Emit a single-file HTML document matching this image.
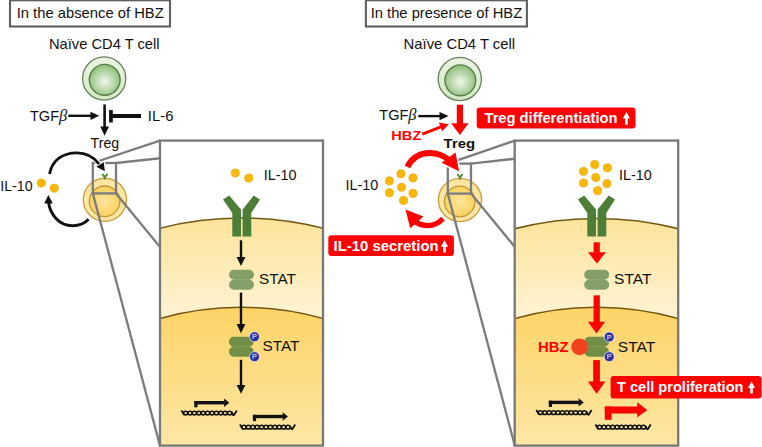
<!DOCTYPE html>
<html><head><meta charset="utf-8">
<style>
html,body{margin:0;padding:0;background:#fff;}
svg{display:block;}
text{font-family:"Liberation Sans",sans-serif;}
</style></head>
<body>
<svg width="762" height="447" viewBox="0 0 762 447">
<defs>
  <radialGradient id="gInner" cx="0.5" cy="0.55" r="0.55">
    <stop offset="0" stop-color="#f2f8ee"/>
    <stop offset="1" stop-color="#88bd72"/>
  </radialGradient>
  <linearGradient id="gOuter" x1="0" y1="0" x2="0" y2="1">
    <stop offset="0" stop-color="#eaf5e2"/>
    <stop offset="1" stop-color="#d2e9c2"/>
  </linearGradient>
  <linearGradient id="gCyto" gradientUnits="userSpaceOnUse" x1="0" y1="218" x2="0" y2="318">
    <stop offset="0" stop-color="#fde49b"/>
    <stop offset="1" stop-color="#fef3d3"/>
  </linearGradient>
  <linearGradient id="gNuc" gradientUnits="userSpaceOnUse" x1="0" y1="307" x2="0" y2="447">
    <stop offset="0" stop-color="#fcd466"/>
    <stop offset="1" stop-color="#fde7a6"/>
  </linearGradient>
  <radialGradient id="gTregIn" cx="0.5" cy="0.5" r="0.5">
    <stop offset="0" stop-color="#fde6a0"/>
    <stop offset="1" stop-color="#fbd15e"/>
  </radialGradient>
  <clipPath id="clipL"><rect x="160" y="140.6" width="163" height="305"/></clipPath>
  <clipPath id="clipR"><rect x="514.7" y="140.6" width="163.5" height="305"/></clipPath>

  <!-- naive cell -->
  <g id="naive">
    <circle cx="0" cy="0" r="21.6" fill="url(#gOuter)" stroke="#687f5e" stroke-width="1.3"/>
    <circle cx="0.5" cy="1.3" r="15.4" fill="url(#gInner)" stroke="#5b7b4d" stroke-width="1.4"/>
  </g>
  <!-- treg cell -->
  <g id="treg">
    <circle cx="0" cy="0" r="21.6" fill="#fde6a4" stroke="#c9a23e" stroke-width="1.4"/>
    <circle cx="-0.3" cy="1.5" r="15.3" fill="url(#gTregIn)" stroke="#c09a38" stroke-width="1.3"/>
    <path d="M-2.7,-25.8 L-0.1,-22.6 L2.6,-25.8 M-0.1,-22.6 L-0.1,-20.2" stroke="#5a8a3a" stroke-width="2" fill="none"/>
  </g>
  <!-- receptor, origin at stem center top of gap -->
  <g id="receptor" fill="#4d7e37">
    <polygon points="-18.8,-10 -12.6,-14 -0.8,0 -0.8,27 -9.5,27 -9.5,3.5"/>
    <polygon points="18.2,-10 12,-14 0.8,0 0.8,27 9.5,27 9.5,3.5"/>
  </g>
  <!-- STAT dimer -->
  <g id="stat">
    <path d="M-7.5,-10 H7.5 A5,5 0 0 1 7.5,0 A5,5 0 0 1 7.5,10 H-7.5 A5,5 0 0 1 -7.5,0 A5,5 0 0 1 -7.5,-10 Z" fill="#84a068"/>
    <path d="M-8.5,0 H8.5" stroke="#98b07e" stroke-width="0.8"/>
  </g>
  <g id="pstat">
    <path d="M-7.4,-10 H7.4 A5,5 0 0 1 7.4,0 A5,5 0 0 1 7.4,10 H-7.4 A5,5 0 0 1 -7.4,0 A5,5 0 0 1 -7.4,-10 Z" fill="#728e46"/>
    <path d="M-8.5,0 H8.5" stroke="#84a05a" stroke-width="0.8"/>
  </g>
  <g id="pcirc">
    <circle r="5" fill="#2c2f9c" stroke="#e8e8f4" stroke-width="0.8"/>
    <text x="0" y="2.6" font-size="7.2" fill="#fff" text-anchor="middle">P</text>
  </g>
  <!-- DNA, origin at left end, center y -->
  <g id="dna" fill="none" stroke="#111" stroke-width="1.5">
    <path d="M0.3,-2.5 L3.2,2" stroke-width="1.9"/>
    <ellipse cx="4.4" cy="0.1" rx="2.05" ry="1.85"/><ellipse cx="8.8" cy="0.1" rx="2.05" ry="1.85"/><ellipse cx="13.2" cy="0.1" rx="2.05" ry="1.85"/><ellipse cx="17.6" cy="0.1" rx="2.05" ry="1.85"/><ellipse cx="22.0" cy="0.1" rx="2.05" ry="1.85"/><ellipse cx="26.4" cy="0.1" rx="2.05" ry="1.85"/><ellipse cx="30.8" cy="0.1" rx="2.05" ry="1.85"/><ellipse cx="35.2" cy="0.1" rx="2.05" ry="1.85"/><ellipse cx="39.6" cy="0.1" rx="2.05" ry="1.85"/><ellipse cx="44.0" cy="0.1" rx="2.05" ry="1.85"/><ellipse cx="48.4" cy="0.1" rx="2.05" ry="1.85"/>
    <path d="M50.6,-1.2 Q51.6,3 52.8,2 L55.6,-2.5" stroke-width="1.8"/>
  </g>
  <g id="bentK" fill="#111">
    <rect x="0" y="0" width="3.2" height="6.3"/>
    <rect x="0" y="0" width="30" height="3.4"/>
    <polygon points="29.8,-2.5 35,1.7 29.8,5.9"/>
  </g>
</defs>

<!-- ================= LEFT ================= -->
<rect x="10" y="0.3" width="160" height="26.2" fill="#fff" stroke="#606060" stroke-width="2.1"/>
<text x="16.7" y="18.4" font-size="14.5" fill="#111" textLength="147" lengthAdjust="spacingAndGlyphs">In the absence of HBZ</text>
<text x="49" y="48.7" font-size="14.5" fill="#111" textLength="110.5" lengthAdjust="spacingAndGlyphs">Naïve CD4 T cell</text>
<use href="#naive" x="104.2" y="78.5"/>

<!-- arrows -->
<path d="M104.6,104.4 V127" stroke="#111" stroke-width="2.6"/>
<polygon points="100.2,126.5 109,126.5 104.6,135.8" fill="#111"/>
<path d="M68.3,115.8 H92" stroke="#111" stroke-width="2.4"/>
<polygon points="90.5,111.7 90.5,119.9 99.3,115.8" fill="#111"/>
<rect x="109.1" y="110" width="3.7" height="12.5" fill="#111"/>
<rect x="112" y="114" width="29" height="4" fill="#111"/>
<text x="30" y="120.5" font-size="14.5" fill="#111">TGF<tspan font-family="Liberation Serif" font-style="italic" font-size="16.5">β</tspan></text>
<text x="147.8" y="120.6" font-size="15" fill="#111" textLength="25.6" lengthAdjust="spacingAndGlyphs">IL-6</text>
<text x="90.6" y="147.6" font-size="14.3" fill="#111" textLength="28.5" lengthAdjust="spacingAndGlyphs">Treg</text>

<!-- IL-10 loop -->
<text x="0.2" y="190.7" font-size="15" fill="#111" textLength="32.4" lengthAdjust="spacingAndGlyphs">IL-10</text>
<circle cx="41.3" cy="183.1" r="4.1" fill="#f7b808" stroke="#eaa915" stroke-width="0.7"/>
<circle cx="54.3" cy="188.2" r="4.1" fill="#f7b808" stroke="#eaa915" stroke-width="0.7"/>

<!-- treg cell + magnifier -->
<use href="#treg" x="104.9" y="199.8"/>
<g stroke="#7c7c80" stroke-width="2.3" fill="none">
  <path d="M92.8,163 L160,140.6"/>
  <path d="M116,163 L323,140.6"/>
  <path d="M92.8,193.4 L160,445.6"/>
  <path d="M116,193.4 L323,445.4"/>
  <rect x="92.8" y="163" width="23.2" height="30.4"/>
</g>
<path d="M49.6,174 C52,160 63,152.8 76.7,152.8 C86,152.8 94,157 99,164" fill="none" stroke="#fff" stroke-width="5"/>
<polygon points="96.3,166.8 103.8,162.3 104.8,171.2" fill="#fff" stroke="#fff" stroke-width="2.5" stroke-linejoin="round"/>
<path d="M49.6,174 C52,160 63,152.8 76.7,152.8 C86,152.8 94,157 99,164" fill="none" stroke="#111" stroke-width="2.8"/>
<polygon points="96.3,166.8 103.8,162.3 104.8,171.2" fill="#111"/>
<path d="M88.6,219.3 C81,227.5 65,228.5 56,218.5 C51.5,213.5 49.2,208 48.5,202" fill="none" stroke="#111" stroke-width="2.9"/>
<polygon points="44.2,203.4 52.8,203.4 48.3,194.9" fill="#111"/>

<!-- big box left -->
<rect x="160" y="140.6" width="163" height="305" fill="#fff"/>
<g clip-path="url(#clipL)">
  <circle cx="241.5" cy="547" r="329" fill="url(#gCyto)" stroke="#755712" stroke-width="1.5"/>
  <circle cx="241.5" cy="609.3" r="302" fill="url(#gNuc)" stroke="#755712" stroke-width="1.5"/>
</g>
<rect x="160" y="140.6" width="163" height="305" fill="none" stroke="#787878" stroke-width="2.3"/>

<circle cx="235.3" cy="173" r="4.1" fill="#f7b808" stroke="#eaa915" stroke-width="0.7"/>
<circle cx="248.8" cy="178" r="4.1" fill="#f7b808" stroke="#eaa915" stroke-width="0.7"/>
<text x="263.8" y="179.5" font-size="14.5" fill="#111" textLength="32.8" lengthAdjust="spacingAndGlyphs">IL-10</text>
<use href="#receptor" x="241.8" y="209.5"/>
<path d="M241,240.3 V258" stroke="#111" stroke-width="2.4"/>
<polygon points="236.6,257 245.4,257 241,266" fill="#111"/>
<use href="#stat" x="241.5" y="279.8"/>
<text x="259" y="284" font-size="14.5" fill="#111" textLength="37" lengthAdjust="spacingAndGlyphs">STAT</text>
<path d="M241,292.6 V325" stroke="#111" stroke-width="2.4"/>
<polygon points="236.6,324 245.4,324 241,333.3" fill="#111"/>
<use href="#pstat" x="241.3" y="346.8"/>
<use href="#pcirc" x="254.5" y="336.8"/>
<use href="#pcirc" x="254.5" y="356.7"/>
<text x="262.4" y="351.3" font-size="14.5" fill="#111" textLength="37" lengthAdjust="spacingAndGlyphs">STAT</text>
<path d="M241,359.8 V386" stroke="#111" stroke-width="2.4"/>
<polygon points="236.6,385 245.4,385 241,393.8" fill="#111"/>
<use href="#dna" x="181.2" y="413"/>
<use href="#bentK" x="194.3" y="401"/>
<use href="#dna" x="239.6" y="427.1"/>
<use href="#bentK" x="252.9" y="414.8"/>

<!-- ================= RIGHT ================= -->
<rect x="365.9" y="0.3" width="161" height="26.2" fill="#fff" stroke="#606060" stroke-width="2.1"/>
<text x="370.7" y="18.4" font-size="14.5" fill="#111" textLength="151.5" lengthAdjust="spacingAndGlyphs">In the presence of HBZ</text>
<text x="403.6" y="48.7" font-size="14.5" fill="#111" textLength="111.5" lengthAdjust="spacingAndGlyphs">Naïve CD4 T cell</text>
<use href="#naive" x="459.8" y="79"/>

<rect x="456.8" y="104.7" width="6.2" height="19.5" fill="#fb0303"/>
<polygon points="451.1,123.3 468.6,123.3 459.9,134.9" fill="#fb0303"/>
<path d="M418.3,116.1 H441" stroke="#111" stroke-width="2.4"/>
<polygon points="439.5,112 439.5,120.2 448.6,116.1" fill="#111"/>
<text x="379.3" y="119.8" font-size="14.5" fill="#111">TGF<tspan font-family="Liberation Serif" font-style="italic" font-size="16.5">β</tspan></text>
<text x="391.3" y="140.3" font-size="13" font-weight="bold" fill="#fb0303" textLength="30" lengthAdjust="spacingAndGlyphs">HBZ</text>
<path d="M422.3,134.2 L441,126.8" stroke="#fb0303" stroke-width="3"/>
<polygon points="438.8,122.6 448.8,124.3 442.2,131.2" fill="#fb0303"/>
<text x="443.6" y="147.7" font-size="13" font-weight="bold" fill="#111" textLength="31.5" lengthAdjust="spacingAndGlyphs">Treg</text>

<rect x="476.7" y="107.4" width="158.8" height="21.2" rx="3" fill="#fb0303"/>
<text x="484.5" y="123.4" font-size="14.5" font-weight="bold" fill="#fff" textLength="133" lengthAdjust="spacingAndGlyphs">Treg differentiation</text>
<path d="M626.4,116 V124.8" stroke="#fff" stroke-width="2.6"/>
<polygon points="622.8,118.6 630.0,118.6 626.4,111.9" fill="#fff"/>

<text x="345.5" y="190.4" font-size="14.5" fill="#111" textLength="32.8" lengthAdjust="spacingAndGlyphs">IL-10</text>
<g fill="#f7b808" stroke="#eaa915" stroke-width="0.7">
  <circle cx="400.9" cy="173.8" r="4.1"/>
  <circle cx="389.4" cy="180.9" r="4.1"/>
  <circle cx="413" cy="177.9" r="4.1"/>
  <circle cx="401.5" cy="187.3" r="4.1"/>
  <circle cx="389.4" cy="192.8" r="4.1"/>
  <circle cx="413" cy="193.4" r="4.1"/>
  <circle cx="403.5" cy="200.4" r="4.1"/>
</g>

<use href="#treg" x="460" y="200"/>
<g stroke="#7c7c80" stroke-width="2.3" fill="none">
  <path d="M447.8,163.6 L514.8,140.6"/>
  <path d="M471,163.6 L678,140.6"/>
  <path d="M447.8,193.6 L514.8,445.6"/>
  <path d="M471,193.6 L678,445.6"/>
  <rect x="447.8" y="163.6" width="23.2" height="30"/>
</g>
<!-- red loop arrows -->
<path d="M407.4,166.9 C413,156 421,153 429.5,153 C437,153 443,155 449,160" fill="none" stroke="#fff" stroke-width="8"/>
<polygon points="441.6,162.8 455.5,152.5 459.1,171.3" fill="#fff" stroke="#fff" stroke-width="3" stroke-linejoin="round"/>
<path d="M407.4,166.9 C413,156 421,153 429.5,153 C437,153 443,155 449,160" fill="none" stroke="#fb0303" stroke-width="6"/>
<polygon points="441.6,162.8 455.5,152.5 459.1,171.3" fill="#fb0303"/>
<path d="M443,218.5 C438,224 433,225.6 428,225.6 C423,225.6 418,224 413,220.5" fill="none" stroke="#fb0303" stroke-width="5.2"/>
<polygon points="405.5,209.4 410.2,228.2 423.5,216.4" fill="#fb0303"/>

<rect x="328.3" y="235.2" width="125.6" height="20.9" rx="3" fill="#fb0303"/>
<text x="333.6" y="251.2" font-size="14.5" font-weight="bold" fill="#fff" textLength="105" lengthAdjust="spacingAndGlyphs">IL-10 secretion</text>
<path d="M444.5,244 V252.5" stroke="#fff" stroke-width="2.6"/>
<polygon points="440.9,246.8 448.1,246.8 444.5,240.2" fill="#fff"/>

<!-- big box right -->
<rect x="514.7" y="140.6" width="163.5" height="305" fill="#fff"/>
<g clip-path="url(#clipR)">
  <circle cx="596.5" cy="547.4" r="329" fill="url(#gCyto)" stroke="#755712" stroke-width="1.5"/>
  <circle cx="596.5" cy="609.3" r="302" fill="url(#gNuc)" stroke="#755712" stroke-width="1.5"/>
</g>
<rect x="514.7" y="140.6" width="163.5" height="305" fill="none" stroke="#787878" stroke-width="2.3"/>

<g fill="#f7b808" stroke="#eaa915" stroke-width="0.7">
  <circle cx="594.7" cy="164.5" r="4.1"/>
  <circle cx="583.5" cy="171.3" r="4.1"/>
  <circle cx="607.4" cy="167.9" r="4.1"/>
  <circle cx="595.8" cy="177.5" r="4.1"/>
  <circle cx="583.5" cy="183.1" r="4.1"/>
  <circle cx="607" cy="183.6" r="4.1"/>
  <circle cx="597.6" cy="190.7" r="4.1"/>
</g>
<text x="618.9" y="179.5" font-size="14.5" fill="#111" textLength="32.8" lengthAdjust="spacingAndGlyphs">IL-10</text>
<use href="#receptor" x="596.8" y="209.5"/>
<rect x="593.6" y="242.3" width="6.2" height="10.5" fill="#fb0303"/>
<polygon points="588,252.2 605.9,252.2 596.9,263.6" fill="#fb0303"/>
<use href="#stat" x="596.7" y="279.8"/>
<text x="614" y="283.9" font-size="14.5" fill="#111" textLength="37.5" lengthAdjust="spacingAndGlyphs">STAT</text>
<rect x="593.6" y="295.3" width="6.2" height="27" fill="#fb0303"/>
<polygon points="587.9,321.8 605,321.8 596.5,333.6" fill="#fb0303"/>
<text x="538" y="351.7" font-size="14.2" font-weight="bold" fill="#fb0303" textLength="30.5" lengthAdjust="spacingAndGlyphs">HBZ</text>
<use href="#pstat" x="596.7" y="346.8"/>
<circle cx="579.6" cy="346.9" r="8.4" fill="#f2421f"/>
<use href="#pcirc" x="609.2" y="337"/>
<use href="#pcirc" x="609.2" y="356.7"/>
<text x="617.8" y="351.6" font-size="14.5" fill="#111" textLength="37.5" lengthAdjust="spacingAndGlyphs">STAT</text>
<rect x="593.2" y="360.1" width="6.7" height="22" fill="#fb0303"/>
<polygon points="587.9,381.5 605.4,381.5 596.6,393.7" fill="#fb0303"/>
<use href="#dna" x="536" y="412.6"/>
<use href="#bentK" x="548.8" y="400.7"/>
<use href="#dna" x="595.1" y="427.1"/>
<rect x="604.8" y="406.5" width="6.8" height="13.3" fill="#fb0303"/>
<rect x="604.8" y="406.5" width="34" height="7" fill="#fb0303"/>
<polygon points="637.2,402.2 647.2,409.9 637.2,417.4" fill="#fb0303"/>

<rect x="610.6" y="376" width="151" height="22.4" rx="3" fill="#fb0303"/>
<text x="617" y="392.2" font-size="14.5" font-weight="bold" fill="#fff" textLength="126.5" lengthAdjust="spacingAndGlyphs">T cell proliferation</text>
<path d="M751.5,386 V393.5" stroke="#fff" stroke-width="2.6"/>
<polygon points="747.9,388 755.1,388 751.5,381.4" fill="#fff"/>
</svg>
</body></html>
